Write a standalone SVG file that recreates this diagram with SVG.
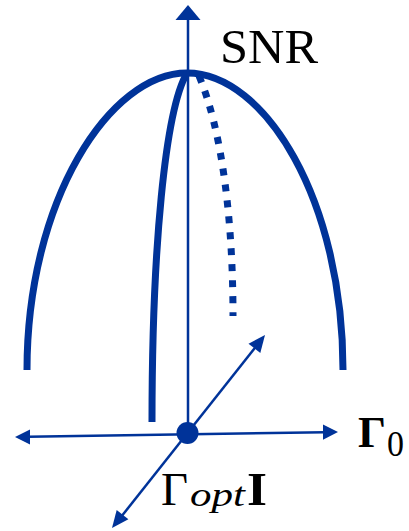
<svg xmlns="http://www.w3.org/2000/svg" width="409" height="531" viewBox="0 0 409 531">
<style>
.curve{fill:none;stroke:#003399;stroke-width:7}
.axis{fill:none;stroke:#003399;stroke-width:2.5}
.head{fill:#003399;stroke:none}
.lbl{font-family:'Liberation Serif','DejaVu Serif',serif;fill:#000}
</style>
<rect width="409" height="531" fill="#fff"/>
<g id="curves">
<path id="outer" class="curve" d="M27,370 C27,200 110,73 187,73 C265,73 343,200 343,370"/>
<path id="inner" class="curve" d="M152,422 C152,250 165,110 187,73"/>
<path id="dotted" class="curve" stroke-dasharray="7 9" d="M199,76 C222,130 233,220 233,316"/>
</g>
<g id="connectors">
<line class="axis" x1="188" y1="433" x2="188" y2="18"/>
<polygon class="head" points="188,5 175.5,20 200.5,20"/>
<line class="axis" x1="28" y1="436.8" x2="325" y2="432.2"/>
<polygon class="head" points="338,432 323,424.5 323,439.7"/>
<polygon class="head" points="15,437 30,429.5 30,444.5"/>
<line class="axis" x1="121" y1="517" x2="256" y2="346.5"/>
<polygon class="head" points="265,335 260.3,353 248.5,343.7"/>
<polygon class="head" points="112,528 128.4,519.3 116.7,510"/>
</g>
<g id="origin">
<circle cx="187.5" cy="433" r="11" fill="#003399"/>
</g>
<g id="labels">
<text class="lbl" x="220" y="63" font-size="48" textLength="98" lengthAdjust="spacingAndGlyphs">SNR</text>
<text class="lbl" x="358" y="447" font-size="44" font-weight="bold" textLength="28" lengthAdjust="spacingAndGlyphs">Γ</text>
<text class="lbl" x="387" y="456" font-size="36" textLength="17" lengthAdjust="spacingAndGlyphs">0</text>
<text class="lbl" x="161" y="505" font-size="46" textLength="27" lengthAdjust="spacingAndGlyphs">Γ</text>
<text class="lbl" x="190" y="506" font-size="34" font-style="italic" textLength="55" lengthAdjust="spacingAndGlyphs">opt</text>
<text class="lbl" x="247" y="505" font-size="46" font-weight="bold" textLength="20" lengthAdjust="spacingAndGlyphs">I</text>
</g>
</svg>
